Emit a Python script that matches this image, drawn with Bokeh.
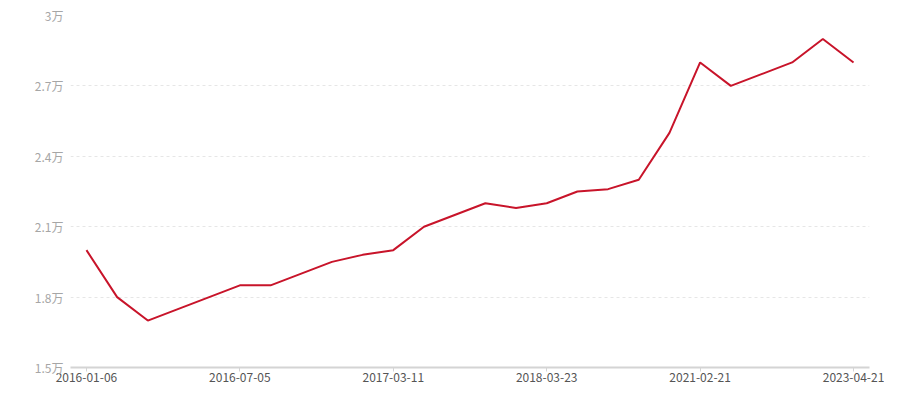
from bokeh.plotting import figure
from bokeh.models import Range1d, FixedTicker, ColumnDataSource
from bokeh.embed import file_html
from bokeh.resources import INLINE

# ---- data ----
values = [20000, 18000, 17000, 17500, 18000, 18500, 18500, 19000, 19500, 19800,
          20000, 21000, 21500, 22000, 21800, 22000, 22500, 22600, 23000, 25000,
          28000, 27000, 27500, 28000, 29000, 28000]
tick_index = [0, 5, 10, 15, 20, 25]
tick_labels = ["2016-01-06", "2016-07-05", "2017-03-11", "2018-03-23", "2021-02-21", "2023-04-21"]
y_ticks = [15000, 18000, 21000, 24000, 27000, 30000]
y_tick_labels = ["1.5万", "1.8万", "2.1万", "2.4万", "2.7万", "3万"]

xs = list(range(len(values)))
src = ColumnDataSource(data=dict(x=xs, y=values))

FONT = "Noto Sans CJK SC"

p = figure(width=884, height=384, output_backend="svg", toolbar_location=None,
           x_range=Range1d(-0.52, len(values) - 1 + 0.52),
           y_range=Range1d(15000, 30000),
           min_border_left=70, min_border_right=15, min_border_top=15, min_border_bottom=17)
p.outline_line_color = None
p.background_fill_color = "white"
p.border_fill_color = "white"

p.line("x", "y", source=src, line_color="#c8142a", line_width=2)

# x axis
xa = p.xaxis[0]
xa.ticker = FixedTicker(ticks=tick_index)
xa.major_label_overrides = {i: l for i, l in zip(tick_index, tick_labels)}
xa.axis_line_color = "#d4d4d4"
xa.axis_line_width = 2
xa.major_tick_line_color = "#d4d4d4"
xa.major_tick_out = 4
xa.major_tick_in = 0
xa.minor_tick_line_color = None
xa.major_label_standoff = 1
xa.major_label_text_font = FONT
xa.major_label_text_font_size = "12px"
xa.major_label_text_color = "#555555"

# y axis
ya = p.yaxis[0]
ya.ticker = FixedTicker(ticks=y_ticks)
ya.major_label_overrides = {v: l for v, l in zip(y_ticks, y_tick_labels)}
ya.axis_line_color = None
ya.major_tick_line_color = None
ya.minor_tick_line_color = None
ya.major_tick_out = 0
ya.major_tick_in = 0
ya.major_label_standoff = 7
ya.major_label_text_font = FONT
ya.major_label_text_font_size = "12px"
ya.major_label_text_color = "#a6a6a6"

p.xgrid.grid_line_color = None
p.ygrid.ticker = FixedTicker(ticks=y_ticks[1:])
p.ygrid.grid_line_color = "#e6e6e6"
p.ygrid.grid_line_dash = "3 3"
p.ygrid.grid_line_width = 1

open("out.html", "w").write(file_html(p, INLINE))
